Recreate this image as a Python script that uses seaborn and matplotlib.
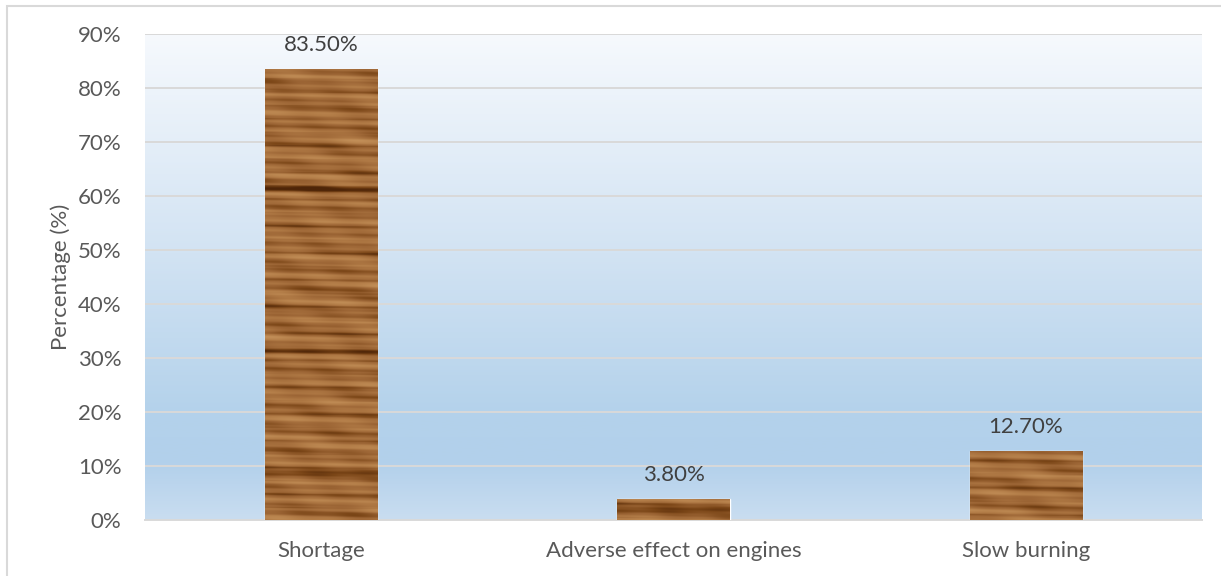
import numpy as np
import pandas as pd
import matplotlib
matplotlib.use("Agg")
import matplotlib.pyplot as plt
from matplotlib.colors import LinearSegmentedColormap
from matplotlib.patches import Rectangle
from matplotlib.ticker import PercentFormatter
import seaborn as sns

# Data
categories = ["Shortage", "Adverse effect on engines", "Slow burning"]
percentages = [83.5, 3.8, 12.7]
value_labels = ["83.50%", "3.80%", "12.70%"]
y_ticks = [0, 10, 20, 30, 40, 50, 60, 70, 80, 90]

df = pd.DataFrame({"category": categories, "pct": percentages})

sns.set_theme(style="white")
plt.rcParams["font.family"] = ["Lato", "DejaVu Sans"]

fig = plt.figure(figsize=(12.21, 5.76), dpi=100)
ax = fig.add_axes([145 / 1221, 1 - 520 / 576, 1057 / 1221, 486 / 576])

# outer chart border
fig.patches.append(Rectangle((7 / 1221, -0.05), 1.1, 1 - 6 / 576 + 0.05,
                             transform=fig.transFigure, fill=False,
                             edgecolor="#d9d9d9", linewidth=1.5, zorder=0))

sns.barplot(data=df, x="category", y="pct", color="#9a6434", width=0.318,
            saturation=1, ax=ax, zorder=3)

ax.set_xlim(-0.5, 2.5)
ax.set_ylim(0, 90)

# background gradient (white at top, light blue towards bottom)
bg_cmap = LinearSegmentedColormap.from_list(
    "bg", [(0.0, "#c9ddf0"), (0.12, "#b2d0eb"), (0.22, "#b4d2eb"),
           (0.55, "#d2e3f3"), (1.0, "#f6f9fd")])
grad = np.linspace(0, 1, 256).reshape(-1, 1)
ax.imshow(grad, cmap=bg_cmap, aspect="auto", origin="lower",
          extent=(-0.5, 2.5, 0, 90), zorder=0)

# wood grain texture on bars
wood_cmap = LinearSegmentedColormap.from_list(
    "wood", ["#4e2508", "#7a4516", "#9c6535", "#b27c47", "#c4915a"])
for i, patch in enumerate(ax.patches):
    x0 = patch.get_x()
    w = patch.get_width()
    h = patch.get_height()
    rows = max(int(h * 5.4), 4)
    yy = np.arange(rows)[:, None] + 37.0 * i
    xx = np.linspace(0, 1, 60)[None, :]
    grain = (0.58 + 0.15 * np.sin(yy * 0.7 + 1.5 * xx)
             + 0.13 * np.sin(yy * 0.31 + 1.3 + 3.0 * xx)
             + 0.04 * np.sin(yy * 1.9 + 6.0 * xx)
             + 0.05 * np.sin(xx * 13.0 + yy * 0.11)
             + 0.08 * np.sin(yy * 0.061 + 0.4) * np.sin(xx * 5.0 + yy * 0.2))
    dark = np.sin(yy * 0.155 + 0.7) * (0.8 + 0.2 * np.sin(yy * 0.043))
    grain = grain - 0.45 * np.clip(dark - 0.85, 0, None) / 0.15
    dark2 = np.sin(yy * 0.47 + 2.1 + 0.6 * xx)
    grain = grain - 0.2 * np.clip(dark2 - 0.9, 0, None) / 0.1
    grain = np.clip(grain, 0, 1)
    im = ax.imshow(grain, cmap=wood_cmap, vmin=0, vmax=1, aspect="auto",
                   origin="lower", extent=(x0, x0 + w, 0, h), zorder=4,
                   interpolation="bicubic")
    im.set_clip_path(patch)

# value labels
for i, (v, lab) in enumerate(zip(percentages, value_labels)):
    ax.text(i, v + 2.6, lab, ha="center", va="bottom", fontsize=16,
            color="#404040", zorder=5)

ax.set_yticks(y_ticks)
ax.yaxis.set_major_formatter(PercentFormatter(decimals=0))
ax.grid(axis="y", color="#d9d9d9", linewidth=1.4, zorder=1)
ax.set_axisbelow(False)
for line in ax.get_ygridlines():
    line.set_zorder(1)

for s in ["top", "right", "left"]:
    ax.spines[s].set_visible(False)
ax.spines["bottom"].set_color("#d9d9d9")
ax.spines["bottom"].set_linewidth(1.4)
ax.spines["bottom"].set_zorder(2)

ax.tick_params(axis="both", length=0, labelsize=16, labelcolor="#595959")
ax.tick_params(axis="x", pad=15)
ax.tick_params(axis="y", pad=17)
ax.set_xlabel("")
ax.set_ylabel("Percentage (%)", fontsize=16, color="#595959", labelpad=5)

fig.savefig("out.png", dpi=100)
